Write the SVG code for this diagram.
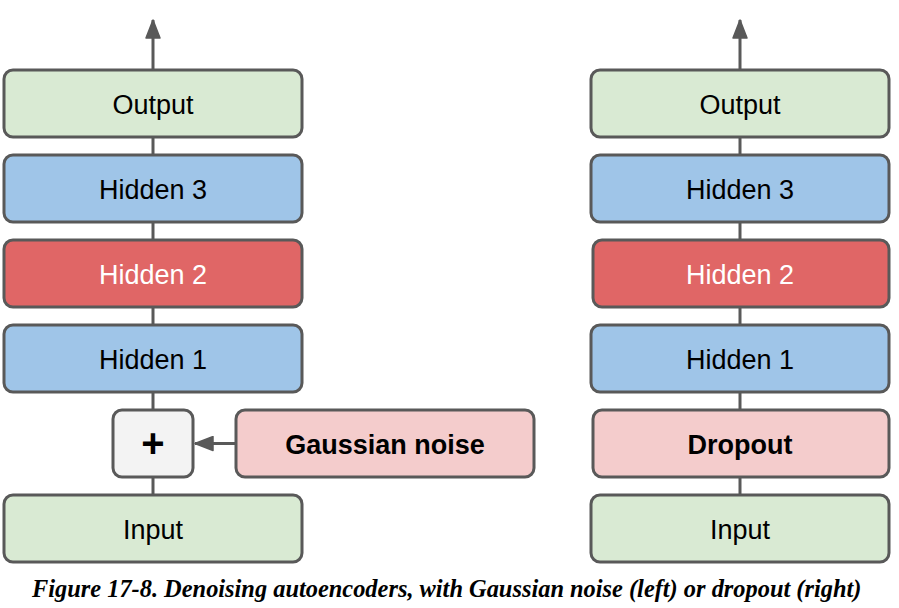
<svg xmlns="http://www.w3.org/2000/svg" width="899" height="608" viewBox="0 0 899 608">
<style>
.box{stroke:#595959;stroke-width:3}
.g{fill:#d9ead3}
.b{fill:#9fc5e8}
.r{fill:#e06666}
.p{fill:#f4cccc}
.w{fill:#f3f3f3}
.t{font-family:"Liberation Sans",Arial,sans-serif;font-size:27px;fill:#000;text-anchor:middle}
.tb{font-weight:bold}
.tw{fill:#fff}
.line{stroke:#595959;stroke-width:3;fill:none}
.cap{font-family:"Liberation Serif","Times New Roman",serif;font-size:24.4px;font-weight:bold;font-style:italic;fill:#000}
</style>
<defs>
<marker id="ah" viewBox="0 0 20 16" refX="19" refY="8" markerWidth="20" markerHeight="16" markerUnits="userSpaceOnUse" orient="auto">
<path d="M1,1 L19,8 L1,15 Z" fill="#595959" stroke="#595959" stroke-width="1.5" stroke-linejoin="round"/>
</marker>
</defs>
<g id="connectors">
<line class="line" x1="153" y1="70" x2="153" y2="20" marker-end="url(#ah)"/>
<line class="line" x1="153" y1="137" x2="153" y2="155"/>
<line class="line" x1="153" y1="222" x2="153" y2="240"/>
<line class="line" x1="153" y1="307" x2="153" y2="325"/>
<line class="line" x1="153" y1="392" x2="153" y2="410"/>
<line class="line" x1="153" y1="477" x2="153" y2="495"/>
<line class="line" x1="236" y1="443.5" x2="195" y2="443.5" marker-end="url(#ah)"/>
<line class="line" x1="740" y1="70" x2="740" y2="20" marker-end="url(#ah)"/>
<line class="line" x1="740" y1="137" x2="740" y2="155"/>
<line class="line" x1="740" y1="222" x2="740" y2="240"/>
<line class="line" x1="740" y1="307" x2="740" y2="325"/>
<line class="line" x1="740" y1="392" x2="740" y2="410"/>
<line class="line" x1="740" y1="477" x2="740" y2="495"/>
</g>
<g id="left-output"><rect class="box g" x="4" y="70" width="298" height="67" rx="9"/><text class="t" x="153" y="114">Output</text></g>
<g id="left-hidden3"><rect class="box b" x="4" y="155" width="298" height="67" rx="9"/><text class="t" x="153" y="199">Hidden 3</text></g>
<g id="left-hidden2"><rect class="box r" x="4" y="240" width="298" height="67" rx="9"/><text class="t tw" x="153" y="284">Hidden 2</text></g>
<g id="left-hidden1"><rect class="box b" x="4" y="325" width="298" height="67" rx="9"/><text class="t" x="153" y="369">Hidden 1</text></g>
<g id="plus"><rect class="box w" x="113" y="410" width="80" height="67" rx="9"/><text class="t tb" x="153" y="457" style="font-size:40px">+</text></g>
<g id="gaussian-noise"><rect class="box p" x="236" y="410" width="298" height="67" rx="9"/><text class="t tb" x="385" y="454">Gaussian noise</text></g>
<g id="left-input"><rect class="box g" x="4" y="495" width="298" height="67" rx="9"/><text class="t" x="153" y="539">Input</text></g>
<g id="right-output"><rect class="box g" x="591" y="70" width="298" height="67" rx="9"/><text class="t" x="740" y="114">Output</text></g>
<g id="right-hidden3"><rect class="box b" x="591" y="155" width="298" height="67" rx="9"/><text class="t" x="740" y="199">Hidden 3</text></g>
<g id="right-hidden2"><rect class="box r" x="593" y="240" width="296" height="67" rx="9"/><text class="t tw" x="740" y="284">Hidden 2</text></g>
<g id="right-hidden1"><rect class="box b" x="591" y="325" width="298" height="67" rx="9"/><text class="t" x="740" y="369">Hidden 1</text></g>
<g id="dropout"><rect class="box p" x="593" y="410" width="296" height="67" rx="9"/><text class="t tb" x="740" y="454">Dropout</text></g>
<g id="right-input"><rect class="box g" x="591" y="495" width="298" height="67" rx="9"/><text class="t" x="740" y="539">Input</text></g>
<text class="cap" x="32" y="597">Figure 17-8. Denoising autoencoders, with Gaussian noise (left) or dropout (right)</text>
</svg>
